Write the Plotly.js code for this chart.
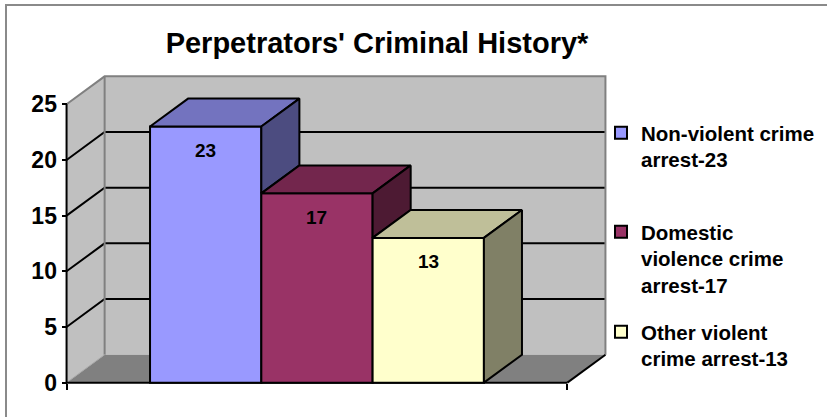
<!DOCTYPE html>
<html>
<head>
<meta charset="utf-8">
<script src="https://cdn.plot.ly/plotly-3.0.1.min.js"></script>
<style>
  html, body { margin: 0; padding: 0; background: #ffffff; overflow: hidden; }
  #frame { position: absolute; left: 5px; top: 4px; width: 840px; height: 430px;
           border: 2px solid #8a8a8a; box-sizing: border-box; }
  #chart { position: absolute; left: 0; top: 0; width: 827px; height: 417px; }
</style>
</head>
<body>
<div id="frame"></div>
<div id="chart"></div>
<script>
// ---------------- data ----------------
const seriesNames = ['Non-violent crime arrest-23', 'Domestic violence crime arrest-17', 'Other violent crime arrest-13'];
const legendLines = ['Non-violent crime<br>arrest-23', 'Domestic<br>violence crime<br>arrest-17', 'Other violent<br>crime arrest-13'];
const values = [23, 17, 13];
const yTickVals = [0, 5, 10, 15, 20, 25];
const dataLabels = ['23', '17', '13'];
const chartTitle = "Perpetrators' Criminal History*";

// ---------------- styles ----------------
const frontColors = ['#9999FF', '#993366', '#FFFFCC'];
const topColors   = ['#7373BF', '#73264D', '#BFBF99'];
const sideColors  = ['#4C4C80', '#4D1A33', '#808066'];
const FONT = 'Arial, "Liberation Sans", sans-serif';
const W = 827, H = 417;

// ---------------- 3-D geometry (in axis units) ----------------
const gapUnits = 0.75;                   // gap each side of the cluster, in bar widths
const planeW = values.length + 2 * gapUnits;
const dx = 0.342, dy = 2.51;             // depth offset
const yMax = yTickVals[yTickVals.length - 1];
const pxX = 111.1, pxY = 11.16;          // pixel scale
const frontLeftPx = 67, zeroPx = 383;
const xPad = 0.05, yPad = 0.3;
const xRange = [-xPad, planeW + dx + xPad];
const yRange = [-yPad, yMax + dy + yPad];
const mL = frontLeftPx - xPad * pxX;
const plotW = (xRange[1] - xRange[0]) * pxX;
const mR = W - mL - plotW;
const mT = zeroPx - (yMax + dy) * pxY - yPad * pxY;
const mB = H - (zeroPx + yPad * pxY);

function path(pts, close) {
  return 'M' + pts.map(p => p[0] + ',' + p[1]).join('L') + (close ? 'Z' : '');
}

const shapes = [];
const base = {xref: 'x', yref: 'y', layer: 'below', type: 'path'};
// side wall, back wall, floor
shapes.push(Object.assign({}, base, {path: path([[0,0],[0,yMax],[dx,yMax+dy],[dx,dy]], true), fillcolor: '#C0C0C0', line: {width: 0}}));
shapes.push(Object.assign({}, base, {path: path([[dx,dy],[dx,yMax+dy],[planeW+dx,yMax+dy],[planeW+dx,dy]], true), fillcolor: '#C0C0C0', line: {width: 0}}));
shapes.push(Object.assign({}, base, {path: path([[0,0],[planeW,0],[planeW+dx,dy],[dx,dy]], true), fillcolor: '#808080', line: {width: 0}}));
// gridlines
yTickVals.forEach(v => {
  if (v === 0 || v === yMax) return;
  shapes.push(Object.assign({}, base, {path: path([[0,v],[dx,v+dy],[planeW+dx,v+dy]], false), line: {color: '#000000', width: 2}}));
});
// wall outline edges (gray)
shapes.push(Object.assign({}, base, {path: path([[0,yMax],[dx,yMax+dy],[planeW+dx,yMax+dy],[planeW+dx,dy]], false), line: {color: '#808080', width: 2}}));
shapes.push(Object.assign({}, base, {path: path([[dx,dy],[dx,yMax+dy]], false), line: {color: '#808080', width: 2}}));
shapes.push(Object.assign({}, base, {path: path([[0,0],[dx,dy]], false), line: {color: '#A8A8A8', width: 1}}));
// floor right edge + axis lines
shapes.push(Object.assign({}, base, {path: path([[planeW,0],[planeW+dx,dy]], false), line: {color: '#000000', width: 2}}));
shapes.push(Object.assign({}, base, {path: path([[0,0],[0,yMax]], false), line: {color: '#000000', width: 2}}));
shapes.push(Object.assign({}, base, {path: path([[0,0],[planeW,0]], false), line: {color: '#000000', width: 2}}));

// ---------------- traces ----------------
const traces = [];
const annotations = [];
values.forEach((v, i) => {
  const x0 = gapUnits + i, x1 = x0 + 1, cx = x0 + 0.5;
  traces.push({
    type: 'bar', x: [cx], y: [v], width: [1], name: legendLines[i],
    legend: i === 0 ? 'legend' : 'legend' + (i + 1),
    marker: {color: frontColors[i], line: {color: '#000000', width: 2}},
    hoverinfo: 'name+y', hovertext: seriesNames[i]
  });
  traces.push({
    type: 'scatter', mode: 'lines', fill: 'toself', fillcolor: topColors[i],
    x: [x0, x1, x1 + dx, x0 + dx, x0], y: [v, v, v + dy, v + dy, v],
    line: {color: '#000000', width: 2}, showlegend: false, hoverinfo: 'skip'
  });
  const next = i + 1 < values.length ? values[i + 1] : 0;
  const sy = i + 1 < values.length ? [v, v + dy, next + dy, next, v] : [v, v + dy, dy, 0, v];
  traces.push({
    type: 'scatter', mode: 'lines', fill: 'toself', fillcolor: sideColors[i],
    x: [x1, x1 + dx, x1 + dx, x1, x1], y: sy,
    line: {color: '#000000', width: 2}, showlegend: false, hoverinfo: 'skip'
  });
  annotations.push({
    x: cx, y: v, xref: 'x', yref: 'y', text: dataLabels[i], showarrow: false,
    yshift: -24, font: {family: FONT, size: 19, weight: 'bold', color: '#000000'}
  });
});

function legendAt(topPx) {
  return {
    x: 601 / W, y: 1 - topPx / H, xref: 'container', yref: 'container',
    xanchor: 'left', yanchor: 'top', valign: 'top',
    bgcolor: 'rgba(0,0,0,0)', borderwidth: 0,
    font: {family: FONT, size: 20.5, weight: 'bold', color: '#000000'}
  };
}

const layout = {
  width: W, height: H,
  margin: {l: mL, r: mR, t: mT, b: mB, pad: 0, autoexpand: false},
  paper_bgcolor: 'rgba(0,0,0,0)', plot_bgcolor: 'rgba(0,0,0,0)',
  font: {family: FONT, color: '#000000'},
  title: {
    text: chartTitle, xref: 'container', yref: 'container',
    x: 377 / W, xanchor: 'center', y: 1 - 43 / H, yanchor: 'middle',
    font: {family: FONT, size: 29, weight: 'bold', color: '#000000'}
  },
  barmode: 'overlay',
  showlegend: true,
  legend: legendAt(113), legend2: legendAt(212), legend3: legendAt(312),
  xaxis: {
    range: xRange, showgrid: false, zeroline: false, showline: false, automargin: false,
    tickmode: 'array', tickvals: [0, planeW], showticklabels: false,
    ticks: 'outside', ticklen: 6, tickwidth: 2, tickcolor: '#000000',
    anchor: 'free', position: (0 - yRange[0]) / (yRange[1] - yRange[0]), fixedrange: true
  },
  yaxis: {
    range: yRange, showgrid: false, zeroline: false, showline: false, automargin: false,
    tickmode: 'array', tickvals: yTickVals,
    ticks: 'outside', ticklen: 5, tickwidth: 2, tickcolor: '#000000',
    tickfont: {family: FONT, size: 23, weight: 'bold', color: '#000000'},
    anchor: 'free', position: (0 - xRange[0]) / (xRange[1] - xRange[0]), fixedrange: true
  },
  shapes: shapes,
  annotations: annotations
};

Plotly.newPlot('chart', traces, layout, {displayModeBar: false, staticPlot: true});
</script>
</body>
</html>
